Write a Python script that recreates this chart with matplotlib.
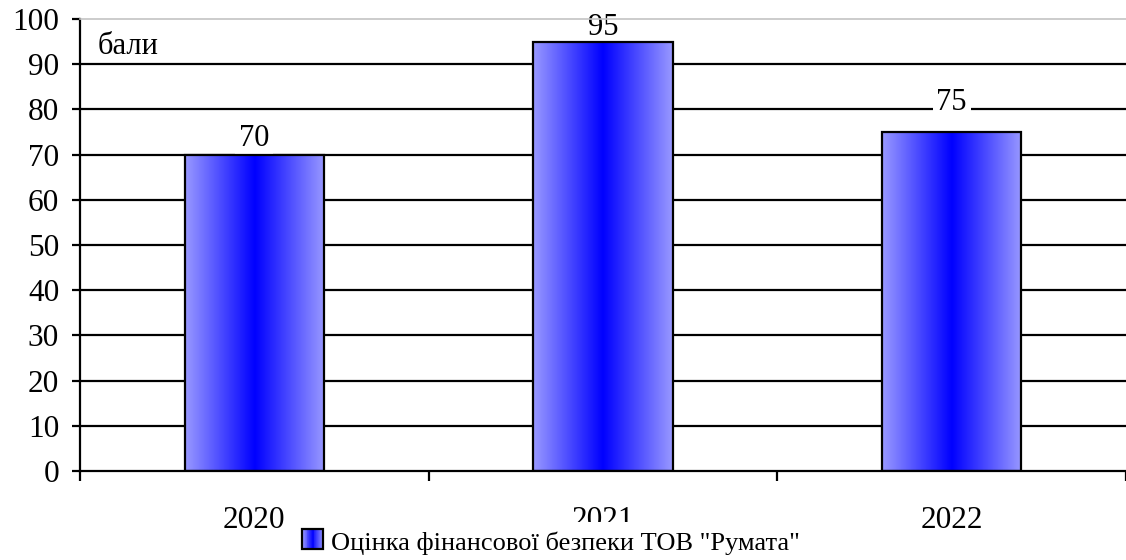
import matplotlib
matplotlib.use("Agg")
import matplotlib.pyplot as plt
import numpy as np
from matplotlib.colors import LinearSegmentedColormap
from matplotlib.patches import Rectangle
from matplotlib.legend_handler import HandlerBase

# Data
years = ["2020", "2021", "2022"]
scores = [70, 95, 75]
series_name = 'Оцінка фінансової безпеки ТОВ "Румата"'
unit_label = "бали"
y_ticks = list(range(0, 101, 10))

plt.rcParams["font.family"] = ["Liberation Serif", "DejaVu Serif"]

grad_cmap = LinearSegmentedColormap.from_list("bar_grad", ["#9999ff", "#0000ff", "#9999ff"])

fig = plt.figure(figsize=(11.26, 5.6), dpi=100)
ax = fig.add_axes([80 / 1126, 89 / 560, 1046 / 1126, 452 / 560])

x = np.arange(len(years))
bar_width = 0.4

# gridlines
for t in y_ticks[1:-1]:
    ax.axhline(t, color="black", lw=1.6, zorder=1)

bars = ax.bar(x, scores, width=bar_width, facecolor="none", edgecolor="black",
              linewidth=1.6, zorder=3)

gradient = np.linspace(0, 1, 256).reshape(1, -1)
for bar in bars:
    x0, y0 = bar.get_x(), bar.get_y()
    w, h = bar.get_width(), bar.get_height()
    img = ax.imshow(gradient, cmap=grad_cmap, aspect="auto",
                    extent=(x0, x0 + w, y0, y0 + h), zorder=2,
                    interpolation="bilinear")
    img.set_clip_path(bar)

ax.set_xlim(-0.5, len(years) - 0.5)
ax.set_ylim(0, 100)

# value labels (white box hides gridlines behind the text, but stays under the bars)
label_offsets = [6, 5, 16]
for xi, val, off in zip(x, scores, label_offsets):
    ax.annotate(str(val), (xi, val), xytext=(0, off), textcoords="offset points",
                ha="center", va="baseline", fontsize=22, zorder=1.5,
                bbox=dict(boxstyle="square,pad=0.12", facecolor="white", edgecolor="none"))

# axes styling
ax.spines["right"].set_visible(False)
ax.spines["top"].set_color("#c4c4c4")
ax.spines["top"].set_linewidth(1.2)
ax.spines["left"].set_linewidth(1.6)
ax.spines["bottom"].set_linewidth(1.6)

ax.set_yticks(y_ticks)
ax.tick_params(axis="y", direction="out", length=6, width=1.6, labelsize=22.5, pad=9)

ax.set_xticks(np.arange(-0.5, len(years) - 0.4, 1.0))
ax.set_xticklabels([])
ax.tick_params(axis="x", which="major", direction="out", length=7.5, width=1.6)
ax.set_xticks(x, minor=True)
ax.set_xticklabels(years, minor=True)
ax.tick_params(axis="x", which="minor", length=0, labelsize=22.5, pad=25)

ax.text(-0.5 + 18 / 349, 92.3, unit_label, fontsize=22, ha="left", va="baseline")


class GradientSquareHandler(HandlerBase):
    def legend_artist(self, legend, orig_handle, fontsize, handlebox):
        x0, y0 = handlebox.xdescent, handlebox.ydescent
        w, h = handlebox.width, handlebox.height
        n = 24
        colors = grad_cmap(np.linspace(0, 1, n))
        for i in range(n):
            r = Rectangle((x0 + i * w / n - w * 0.002, y0), w / n + w * 0.004, h,
                          facecolor=colors[i], edgecolor="none",
                          transform=handlebox.get_transform())
            handlebox.add_artist(r)
        frame = Rectangle((x0, y0), w, h, facecolor="none", edgecolor="black",
                          linewidth=1.6, transform=handlebox.get_transform())
        handlebox.add_artist(frame)
        return frame


proxy = Rectangle((0, 0), 1, 1)
leg = fig.legend([proxy], [series_name], loc="center", bbox_to_anchor=(0.4895, 0.03),
                 fontsize=19, handler_map={Rectangle: GradientSquareHandler()},
                 handlelength=0.8, handleheight=0.8, handletextpad=0.3,
                 borderpad=0.35, borderaxespad=0, frameon=True, fancybox=False,
                 framealpha=1.0)
leg.get_frame().set_facecolor("white")
leg.get_frame().set_edgecolor("none")

fig.savefig("out.png", dpi=100, facecolor="white")
